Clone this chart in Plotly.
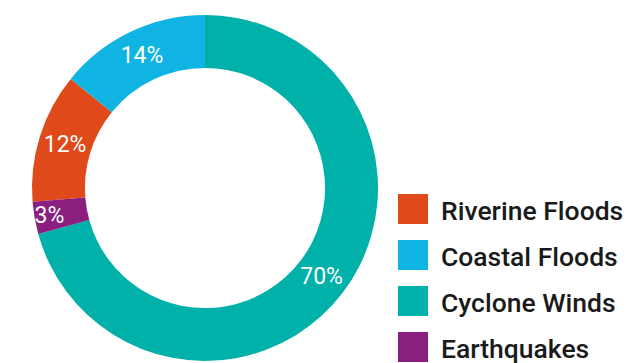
import plotly.graph_objects as go

# Share of losses by hazard
labels = ["Riverine Floods", "Coastal Floods", "Cyclone Winds", "Earthquakes"]
values = [12, 14, 70, 3]
colors = ["#E04A1A", "#0FB4E2", "#00B1AA", "#8A1F80"]

W, H = 628, 363
M_TOP, M_BOT = 15, 2
PLOT_H = H - M_TOP - M_BOT

# start the first slice so that Cyclone Winds begins at 12 o'clock
start = -360 * (values[0] + values[1]) / sum(values)

fig = go.Figure(go.Pie(
    labels=labels,
    values=values,
    sort=False,
    direction="clockwise",
    rotation=start,
    hole=0.694,
    marker=dict(colors=colors, line=dict(width=0)),
    texttemplate="%{value}%",
    textposition="inside",
    insidetextorientation="horizontal",
    textfont=dict(family="Roboto", size=23, color="white"),
    hoverinfo="label+value",
    domain=dict(x=[32 / W, 378 / W], y=[0, 1]),
    showlegend=False,
))


def py(pix):
    """Convert a pixel row (from the top) to paper y."""
    return 1 - (pix - M_TOP) / PLOT_H


# legend: coloured squares with labels on the right
shapes, annotations = [], []
x0, size, gap = 398, 30, 46
y_top = 194
for i, (lab, col) in enumerate(zip(labels, colors)):
    y0 = y_top + i * gap
    shapes.append(dict(
        type="rect", xref="paper", yref="paper",
        x0=x0 / W, x1=(x0 + size) / W,
        y0=py(y0 + size), y1=py(y0),
        fillcolor=col, line=dict(width=0), layer="above",
    ))
    annotations.append(dict(
        text=lab, xref="paper", yref="paper",
        x=439 / W, y=py(y0 + size / 2 + 1),
        xanchor="left", yanchor="middle", showarrow=False,
        font=dict(family="Roboto", size=26.5, color="#1a1a1a", weight=500),
    ))

fig.update_layout(
    width=W, height=H,
    margin=dict(l=0, r=0, t=M_TOP, b=M_BOT),
    paper_bgcolor="white",
    plot_bgcolor="white",
    uniformtext=dict(minsize=23, mode="show"),
    shapes=shapes,
    annotations=annotations,
)

fig.write_html("out.html")
